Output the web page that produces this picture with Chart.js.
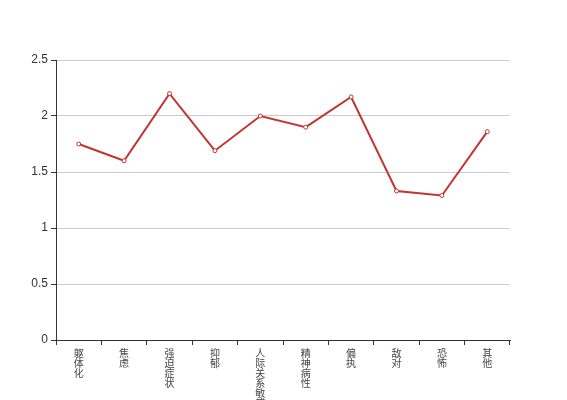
<!DOCTYPE html>
<html>
<head>
<meta charset="utf-8">
<script src="https://cdn.jsdelivr.net/npm/chart.js@4/dist/chart.umd.min.js"></script>
<style>
html,body{margin:0;padding:0;background:#fff;}
#wrap{width:567px;height:400px;position:relative;}
</style>
</head>
<body>
<div id="wrap"><canvas id="c" width="567" height="400"></canvas></div>
<script>
const categories = ["躯体化","焦虑","强迫症状","抑郁","人际关系敏感","精神病性","偏执","敌对","恐怖","其他"];
const values = [1.75, 1.6, 2.2, 1.69, 2.0, 1.9, 2.17, 1.33, 1.29, 1.86];
const yTicks = [0, 0.5, 1, 1.5, 2, 2.5];

const ctx = document.getElementById('c').getContext('2d');
new Chart(ctx, {
  type: 'line',
  data: {
    labels: categories.map(s => Array.from(s)),
    datasets: [{
      data: values,
      borderColor: '#c23531',
      borderWidth: 2,
      tension: 0,
      pointRadius: 2,
      pointHoverRadius: 2,
      pointBorderWidth: 1,
      pointBorderColor: '#c23531',
      pointBackgroundColor: '#fff',
      fill: false
    }]
  },
  options: {
    responsive: false,
    animation: false,
    layout: { padding: { top: 60, right: 57, left: 0, bottom: 0 } },
    plugins: { legend: { display: false }, tooltip: { enabled: false } },
    scales: {
      x: {
        type: 'category',
        offset: true,
        grid: { offset: true, drawOnChartArea: false, drawTicks: true, tickLength: 5, tickColor: '#333', lineWidth: 1 },
        border: { color: '#333', width: 1 },
        ticks: {
          autoSkip: false, maxRotation: 0, minRotation: 0, padding: 3,
          color: '#444',
          font: { family: "'Noto Sans CJK SC',sans-serif", size: 10, lineHeight: '10px' }
        },
        afterFit: s => { s.height = 60; }
      },
      y: {
        min: 0, max: 2.5,
        afterBuildTicks: s => { s.ticks = yTicks.map(v => ({ value: v })); },
        grid: { color: '#ccc', drawTicks: true, tickLength: 5, tickColor: '#333', lineWidth: 1 },
        border: { color: '#333', width: 1 },
        ticks: {
          padding: 3, color: '#333',
          font: { family: "'Liberation Sans',sans-serif", size: 12 },
          callback: v => String(v)
        },
        afterFit: s => { s.width = 56; }
      }
    }
  }
});
</script>
</body>
</html>
